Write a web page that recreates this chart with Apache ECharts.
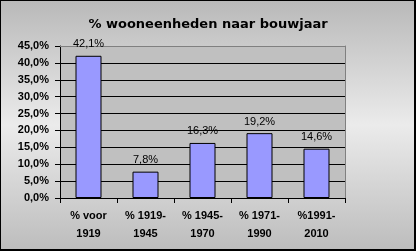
<!DOCTYPE html>
<html><head><meta charset="utf-8">
<script src="https://cdn.jsdelivr.net/npm/echarts@6/dist/echarts.min.js"></script>
<style>
html,body{margin:0;padding:0;}
#bg{position:absolute;left:0;top:0;width:413px;height:248px;border-style:solid;border-color:#000;border-width:1px 2px 2px 1px;
  background:linear-gradient(to bottom,#b9b9b9 0%,#ebebeb 50%,#bdbdbd 100%);}
#c{position:absolute;left:0;top:0;width:416px;height:251px;}
</style>
</head><body><div id="bg"></div><div id="c"></div>
<script>
const titleText = '% wooneenheden naar bouwjaar';
const catLine1 = ['% voor', '% 1919-', '% 1945-', '% 1971-', '%1991-'];
const catLine2 = ['1919', '1945', '1970', '1990', '2010'];
const values = [42.1, 7.8, 16.3, 19.2, 14.6];
const yMin = 0, yMax = 45, yStep = 5;

const fmt = v => v.toFixed(1).replace('.', ',') + '%';
const labelFont = {fontFamily: 'Liberation Sans', fontWeight: 'bold', fontSize: 11, color: '#000'};
const chart = echarts.init(document.getElementById('c'));
chart.setOption({
  animation: false,
  backgroundColor: 'transparent',
  title: {
    text: titleText, left: 'center', top: 13,
    textStyle: {fontFamily: 'DejaVu Sans', fontWeight: 'bold', fontSize: 13, color: '#000'}
  },
  grid: {left: 60, right: 71, top: 46, bottom: 53},
  xAxis: [{
    type: 'category', data: catLine1,
    axisLine: {show: true, lineStyle: {color: '#000'}},
    axisTick: {show: true, length: 5, lineStyle: {color: '#000'}},
    axisLabel: Object.assign({interval: 0, margin: 12}, labelFont)
  }, {
    type: 'category', data: catLine2, position: 'bottom', offset: 18,
    axisLine: {show: false}, axisTick: {show: false}, splitLine: {show: false},
    axisLabel: Object.assign({interval: 0, margin: 12}, labelFont)
  }, {
    type: 'category', data: catLine1, position: 'top',
    axisLine: {show: true, lineStyle: {color: '#808080'}},
    axisTick: {show: false}, axisLabel: {show: false}, splitLine: {show: false}
  }],
  yAxis: [{
    type: 'value', min: yMin, max: yMax, interval: yStep,
    axisLine: {show: true, lineStyle: {color: '#000'}},
    axisTick: {show: true, length: 5, lineStyle: {color: '#000'}},
    splitLine: {show: true, lineStyle: {color: '#000'}},
    splitArea: {show: true, areaStyle: {color: ['#c0c0c0']}},
    axisLabel: Object.assign({formatter: fmt, margin: 11}, labelFont)
  }, {
    type: 'value', min: yMin, max: yMax, interval: yStep, position: 'right',
    axisLine: {show: true, lineStyle: {color: '#808080'}},
    axisTick: {show: false}, axisLabel: {show: false}, splitLine: {show: false}
  }],
  series: [{
    type: 'bar', data: values, barWidth: 26, xAxisIndex: 0, yAxisIndex: 0,
    itemStyle: {color: '#9999ff', borderColor: '#000', borderWidth: 1},
    label: {show: true, position: 'top', distance: 6, formatter: p => fmt(p.value),
      fontFamily: 'Liberation Sans', fontSize: 11, color: '#000'}
  }]
});
</script></body></html>
